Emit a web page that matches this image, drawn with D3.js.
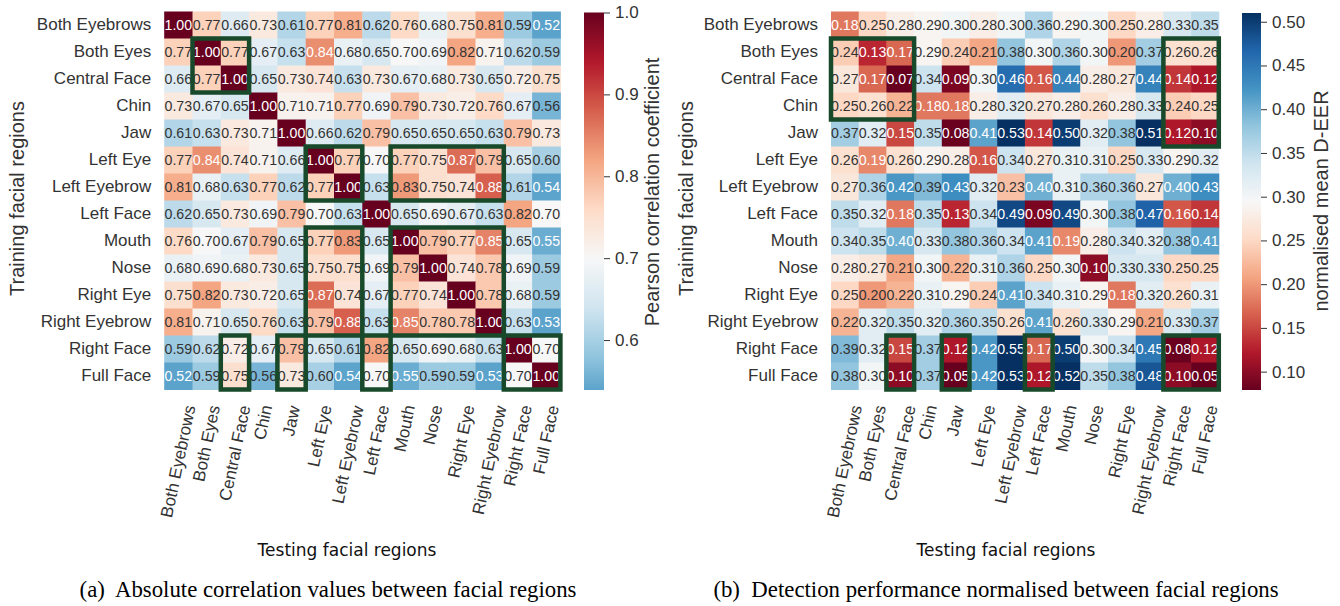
<!DOCTYPE html>
<html>
<head>
<meta charset="utf-8">
<script src="https://cdn.jsdelivr.net/npm/d3@7"></script>
<style>
  body { margin: 0; background: #fff; }
  svg { display: block; }
</style>
</head>
<body>
<svg id="fig" width="1340" height="606"></svg>
<script>
// Facial regions, in the order used for both rows (training) and columns (testing)
const categories = [
  "Both Eyebrows", "Both Eyes", "Central Face", "Chin", "Jaw", "Left Eye",
  "Left Eyebrow", "Left Face", "Mouth", "Nose", "Right Eye", "Right Eyebrow",
  "Right Face", "Full Face"
];

// (a) absolute Pearson correlation between facial regions
const correlationValues = [
  [1.00, 0.77, 0.66, 0.73, 0.61, 0.77, 0.81, 0.62, 0.76, 0.68, 0.75, 0.81, 0.59, 0.52],
  [0.77, 1.00, 0.77, 0.67, 0.63, 0.84, 0.68, 0.65, 0.70, 0.69, 0.82, 0.71, 0.62, 0.59],
  [0.66, 0.77, 1.00, 0.65, 0.73, 0.74, 0.63, 0.73, 0.67, 0.68, 0.73, 0.65, 0.72, 0.75],
  [0.73, 0.67, 0.65, 1.00, 0.71, 0.71, 0.77, 0.69, 0.79, 0.73, 0.72, 0.76, 0.67, 0.56],
  [0.61, 0.63, 0.73, 0.71, 1.00, 0.66, 0.62, 0.79, 0.65, 0.65, 0.65, 0.63, 0.79, 0.73],
  [0.77, 0.84, 0.74, 0.71, 0.66, 1.00, 0.77, 0.70, 0.77, 0.75, 0.87, 0.79, 0.65, 0.60],
  [0.81, 0.68, 0.63, 0.77, 0.62, 0.77, 1.00, 0.63, 0.83, 0.75, 0.74, 0.88, 0.61, 0.54],
  [0.62, 0.65, 0.73, 0.69, 0.79, 0.70, 0.63, 1.00, 0.65, 0.69, 0.67, 0.63, 0.82, 0.70],
  [0.76, 0.70, 0.67, 0.79, 0.65, 0.77, 0.83, 0.65, 1.00, 0.79, 0.77, 0.85, 0.65, 0.55],
  [0.68, 0.69, 0.68, 0.73, 0.65, 0.75, 0.75, 0.69, 0.79, 1.00, 0.74, 0.78, 0.69, 0.59],
  [0.75, 0.82, 0.73, 0.72, 0.65, 0.87, 0.74, 0.67, 0.77, 0.74, 1.00, 0.78, 0.68, 0.59],
  [0.81, 0.71, 0.65, 0.76, 0.63, 0.79, 0.88, 0.63, 0.85, 0.78, 0.78, 1.00, 0.63, 0.53],
  [0.59, 0.62, 0.72, 0.67, 0.79, 0.65, 0.61, 0.82, 0.65, 0.69, 0.68, 0.63, 1.00, 0.70],
  [0.52, 0.59, 0.75, 0.56, 0.73, 0.60, 0.54, 0.70, 0.55, 0.59, 0.59, 0.53, 0.70, 1.00]
];

// (b) normalised mean D-EER, training region (row) vs testing region (column)
const deerValues = [
  [0.18, 0.25, 0.28, 0.29, 0.30, 0.28, 0.30, 0.36, 0.29, 0.30, 0.25, 0.28, 0.33, 0.35],
  [0.24, 0.13, 0.17, 0.29, 0.24, 0.21, 0.38, 0.30, 0.36, 0.30, 0.20, 0.37, 0.26, 0.26],
  [0.27, 0.17, 0.07, 0.34, 0.09, 0.30, 0.46, 0.16, 0.44, 0.28, 0.27, 0.44, 0.14, 0.12],
  [0.25, 0.26, 0.22, 0.18, 0.18, 0.28, 0.32, 0.27, 0.28, 0.26, 0.28, 0.33, 0.24, 0.25],
  [0.37, 0.32, 0.15, 0.35, 0.08, 0.41, 0.53, 0.14, 0.50, 0.32, 0.38, 0.51, 0.12, 0.10],
  [0.26, 0.19, 0.26, 0.29, 0.28, 0.16, 0.34, 0.27, 0.31, 0.31, 0.25, 0.33, 0.29, 0.32],
  [0.27, 0.36, 0.42, 0.39, 0.43, 0.32, 0.23, 0.40, 0.31, 0.36, 0.36, 0.27, 0.40, 0.43],
  [0.35, 0.32, 0.18, 0.35, 0.13, 0.34, 0.49, 0.09, 0.49, 0.30, 0.38, 0.47, 0.16, 0.14],
  [0.34, 0.35, 0.40, 0.33, 0.38, 0.36, 0.34, 0.41, 0.19, 0.28, 0.34, 0.32, 0.38, 0.41],
  [0.28, 0.27, 0.21, 0.30, 0.22, 0.31, 0.36, 0.25, 0.30, 0.10, 0.33, 0.33, 0.25, 0.25],
  [0.25, 0.20, 0.22, 0.31, 0.29, 0.24, 0.41, 0.34, 0.31, 0.29, 0.18, 0.32, 0.26, 0.31],
  [0.22, 0.32, 0.35, 0.32, 0.36, 0.35, 0.26, 0.41, 0.26, 0.33, 0.29, 0.21, 0.33, 0.37],
  [0.39, 0.32, 0.15, 0.37, 0.12, 0.42, 0.55, 0.17, 0.50, 0.30, 0.34, 0.45, 0.08, 0.12],
  [0.38, 0.30, 0.10, 0.37, 0.05, 0.42, 0.53, 0.12, 0.52, 0.35, 0.38, 0.48, 0.10, 0.05]
];

// Colour-bar tick values
const correlationTicks = [0.6, 0.7, 0.8, 0.9, 1.0];
const deerTicks = [0.10, 0.15, 0.20, 0.25, 0.30, 0.35, 0.40, 0.45, 0.50];

// Highlighted blocks: first..last training region, first..last testing region
const correlationHighlights = [
  { rows: ["Both Eyes", "Central Face"], cols: ["Both Eyes", "Central Face"] },
  { rows: ["Left Eye", "Left Eyebrow"], cols: ["Left Eye", "Left Eyebrow"] },
  { rows: ["Left Eye", "Left Eyebrow"], cols: ["Mouth", "Right Eyebrow"] },
  { rows: ["Mouth", "Right Eyebrow"], cols: ["Left Eye", "Left Eyebrow"] },
  { rows: ["Mouth", "Right Eyebrow"], cols: ["Mouth", "Right Eyebrow"] },
  { rows: ["Right Face", "Full Face"], cols: ["Central Face", "Central Face"] },
  { rows: ["Right Face", "Full Face"], cols: ["Jaw", "Jaw"] },
  { rows: ["Right Face", "Full Face"], cols: ["Left Face", "Left Face"] },
  { rows: ["Right Face", "Full Face"], cols: ["Right Face", "Full Face"] }
];
const deerHighlights = [
  { rows: ["Both Eyes", "Chin"], cols: ["Both Eyebrows", "Central Face"] },
  { rows: ["Both Eyes", "Jaw"], cols: ["Right Face", "Full Face"] },
  { rows: ["Right Face", "Full Face"], cols: ["Central Face", "Central Face"] },
  { rows: ["Right Face", "Full Face"], cols: ["Jaw", "Jaw"] },
  { rows: ["Right Face", "Full Face"], cols: ["Left Face", "Left Face"] },
  { rows: ["Right Face", "Full Face"], cols: ["Right Face", "Full Face"] }
];

// Diverging red-blue map with linear interpolation between the ColorBrewer anchors
const rdbu = d3.piecewise(d3.interpolateRgb, d3.schemeRdBu[11]);

const SANS = "'Liberation Sans', Arial, Helvetica, sans-serif";
const TEXT = "#333";
const BOX = "#17492a";
const TICK_FONT = 17;
const svg = d3.select("#fig");

function luminance(c) {
  const r = d3.rgb(c);
  const f = v => { v /= 255; return v <= 0.03928 ? v / 12.92 : Math.pow((v + 0.055) / 1.055, 2.4); };
  return 0.2126 * f(r.r) + 0.7152 * f(r.g) + 0.0722 * f(r.b);
}

function drawPanel(cfg) {
  const g = svg.append("g");
  const x = d3.scaleBand().domain(categories).range([cfg.left, cfg.left + cfg.cellW * categories.length]).padding(0);
  const y = d3.scaleBand().domain(categories).range([cfg.top, cfg.top + cfg.cellH * categories.length]).padding(0);

  // colour scale: clamp to the colour-bar range, then to the cmap window
  const norm = d3.scaleLinear().domain(cfg.cmapWindow).range([0, 1]).clamp(true);
  const clampV = v => Math.max(cfg.vmin, Math.min(cfg.vmax, v));
  const color = v => rdbu(cfg.reversed ? 1 - norm(clampV(v)) : norm(clampV(v)));

  const cells = [];
  cfg.values.forEach((row, i) => row.forEach((v, j) => cells.push({ r: categories[i], c: categories[j], v })));

  const cell = g.append("g").selectAll("g").data(cells).join("g");
  cell.append("rect")
    .attr("x", d => x(d.c))
    .attr("y", d => y(d.r))
    .attr("width", x.bandwidth() + 0.5)
    .attr("height", y.bandwidth() + 0.5)
    .attr("fill", d => color(d.v));
  cell.append("text")
    .attr("x", d => x(d.c) + x.bandwidth() / 2)
    .attr("y", d => y(d.r) + y.bandwidth() / 2)
    .attr("dy", "0.36em")
    .attr("text-anchor", "middle")
    .attr("font-family", SANS)
    .attr("font-size", 14.2)
    .attr("fill", d => luminance(color(d.v)) < 0.408 ? "#fff" : TEXT)
    .text(d => d.v.toFixed(2));

  // highlighted blocks
  g.append("g").selectAll("rect").data(cfg.highlights).join("rect")
    .attr("x", d => x(d.cols[0]))
    .attr("y", d => y(d.rows[0]))
    .attr("width", d => x(d.cols[1]) + x.bandwidth() - x(d.cols[0]))
    .attr("height", d => y(d.rows[1]) + y.bandwidth() - y(d.rows[0]))
    .attr("fill", "none")
    .attr("stroke", BOX)
    .attr("stroke-width", 4.5);

  // y axis (training regions)
  const yAxis = g.append("g")
    .attr("transform", `translate(${cfg.left},0)`)
    .call(d3.axisLeft(y).tickSize(0).tickPadding(13));
  yAxis.select(".domain").remove();
  yAxis.selectAll("text").attr("font-family", SANS).attr("font-size", TICK_FONT).attr("fill", TEXT);

  // x axis (testing regions), rotated labels centred below each column
  const bottom = cfg.top + cfg.cellH * categories.length;
  const xAxis = g.append("g")
    .attr("transform", `translate(0,${bottom})`)
    .call(d3.axisBottom(x).tickSize(0));
  xAxis.select(".domain").remove();
  const ang = -78 * Math.PI / 180;
  xAxis.selectAll("text")
    .attr("font-family", SANS).attr("font-size", TICK_FONT).attr("fill", TEXT)
    .attr("text-anchor", "end").attr("x", 0).attr("y", 0).attr("dy", "0.3em")
    .each(function () {
      const b = this.getBBox();
      const pts = [[b.x, b.y], [b.x + b.width, b.y], [b.x, b.y + b.height], [b.x + b.width, b.y + b.height]]
        .map(([px, py]) => [px * Math.cos(ang) - py * Math.sin(ang), px * Math.sin(ang) + py * Math.cos(ang)]);
      const minX = d3.min(pts, p => p[0]), maxX = d3.max(pts, p => p[0]), minY = d3.min(pts, p => p[1]);
      const dx = -(minX + maxX) / 2, dy = cfg.xLabelPad - minY;
      d3.select(this).attr("transform", `translate(${dx},${dy}) rotate(-78)`);
    });

  // axis titles
  g.append("text")
    .attr("transform", `translate(${cfg.yTitleX},${cfg.top + cfg.cellH * 7 - 2}) rotate(-90)`)
    .attr("text-anchor", "middle").attr("dy", "0.36em")
    .attr("font-family", SANS).attr("font-size", 20).attr("fill", TEXT)
    .text("Training facial regions");
  g.append("text")
    .attr("x", cfg.xTitleX).attr("y", 556)
    .attr("text-anchor", "middle")
    .attr("font-family", "'DejaVu Sans', sans-serif").attr("font-size", 17).attr("fill", "#111")
    .text("Testing facial regions");

  // colour bar
  const cb = cfg.colorbar;
  const cbScale = d3.scaleLinear().domain([cfg.vmin, cfg.vmax]).range([cb.bottom, cb.top]);
  const gradId = cfg.id + "-grad";
  const grad = svg.append("defs").append("linearGradient")
    .attr("id", gradId).attr("x1", 0).attr("y1", 1).attr("x2", 0).attr("y2", 0);
  d3.range(0, 1.0001, 1 / 64).forEach(t => {
    grad.append("stop").attr("offset", t).attr("stop-color", color(cfg.vmin + t * (cfg.vmax - cfg.vmin)));
  });
  g.append("rect")
    .attr("x", cb.x).attr("y", cb.top).attr("width", cb.w).attr("height", cb.bottom - cb.top)
    .attr("fill", `url(#${gradId})`);
  const cbAxis = g.append("g")
    .attr("transform", `translate(${cb.x + cb.w},0)`)
    .call(d3.axisRight(cbScale).tickValues(cfg.ticks).tickFormat(d3.format(cfg.tickFormat)).tickSize(6).tickPadding(5));
  cbAxis.select(".domain").remove();
  cbAxis.selectAll("line").attr("stroke", TEXT);
  cbAxis.selectAll("text").attr("font-family", SANS).attr("font-size", TICK_FONT).attr("fill", TEXT);
  g.append("text")
    .attr("transform", `translate(${cb.labelX},${cb.labelY}) rotate(-90)`)
    .attr("text-anchor", "middle").attr("dy", "0.36em")
    .attr("font-family", SANS).attr("font-size", 20).attr("fill", TEXT)
    .text(cb.label);

  // sub-caption
  g.append("text")
    .attr("x", cfg.captionX).attr("y", 597)
    .attr("text-anchor", "middle")
    .attr("font-family", "'Liberation Serif', 'Times New Roman', serif").attr("font-size", 22.8).attr("fill", "#000")
    .attr("xml:space", "preserve")
    .text(cfg.caption);
}

drawPanel({
  id: "corr",
  values: correlationValues,
  left: 164.2, cellW: 28.3, top: 11.5, cellH: 27,
  vmin: 0.539, vmax: 1.0, cmapWindow: [0.4, 1.0], reversed: true,
  highlights: correlationHighlights,
  ticks: correlationTicks, tickFormat: ".1f",
  xLabelPad: 14,
  yTitleX: 17, xTitleX: 347,
  colorbar: { x: 584, w: 20, top: 12.5, bottom: 390, labelX: 652, labelY: 192, label: "Pearson correlation coefficient" },
  captionX: 328,
  caption: "(a)  Absolute correlation values between facial regions"
});

drawPanel({
  id: "deer",
  values: deerValues,
  left: 831, cellW: 27.7, top: 11.5, cellH: 27,
  vmin: 0.079, vmax: 0.51, cmapWindow: [0.079, 0.51], reversed: false,
  highlights: deerHighlights,
  ticks: deerTicks, tickFormat: ".2f",
  xLabelPad: 14,
  yTitleX: 686, xTitleX: 1006,
  colorbar: { x: 1242, w: 19, top: 13, bottom: 390, labelX: 1321, labelY: 201, label: "normalised mean D-EER" },
  captionX: 996,
  caption: "(b)  Detection performance normalised between facial regions"
});
</script>
</body>
</html>
